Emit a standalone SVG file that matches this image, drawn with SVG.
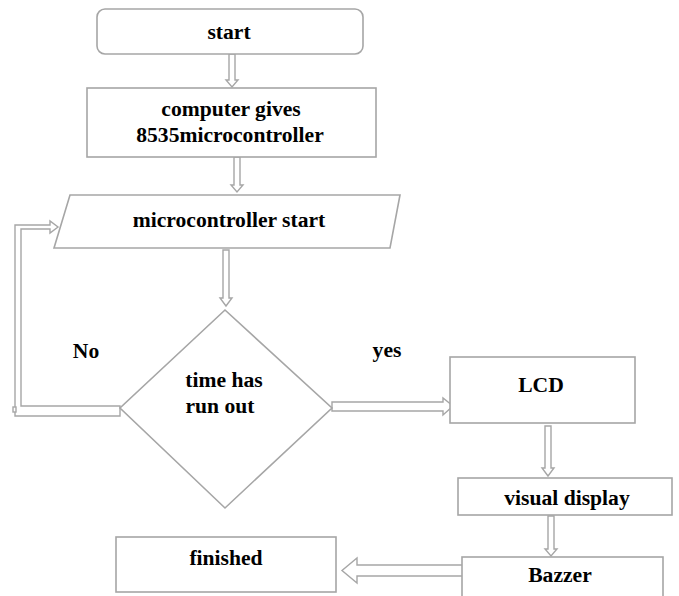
<svg xmlns="http://www.w3.org/2000/svg" width="679" height="596" viewBox="0 0 679 596">
<style>
.box{fill:#fff;stroke:#a6a6a6;stroke-width:1.6}
.arr{fill:#fff;stroke:#a6a6a6;stroke-width:1.4;stroke-linejoin:miter}
</style>
<rect width="679" height="596" fill="#fff"/>
<g id="connectors">
<polygon class="arr" points="229,54 235,54 235,80 238,80 232,87 226,80 229,80"/>
<polygon class="arr" points="234,157 240,157 240,185 243,185 237,192 231,185 234,185"/>
<polygon class="arr" points="223,250 229,250 229,298 232,298 226,306 220,298 223,298"/>
<polygon class="arr" points="332,402 443,402 443,398 453,406 443,415 443,411 332,411"/>
<polygon class="arr" points="545,426 551,426 551,468 554,468 548,476 542,468 545,468"/>
<polygon class="arr" points="548,516 554,516 554,549 557,549 551,556 545,549 548,549"/>
<polygon class="arr" points="467,565 357,565 357,558 342,570.5 357,583 357,576 467,576"/>
<polygon class="arr" points="120,406 21,406 21,229 50,229 50,233 58,227 50,221 50,225 15,225 15,416 120,416"/>
<rect class="arr" x="13" y="407" width="3" height="5"/>
</g>
<g font-family="'Liberation Serif', 'Times New Roman', serif" font-weight="bold" font-size="21.6" text-anchor="middle" fill="#000">
<g id="start">
<rect class="box" x="97" y="9" width="266" height="45" rx="8"/>
<text x="229" y="39">start</text>
</g>
<g id="computer">
<rect class="box" x="87" y="88" width="289" height="69"/>
<text x="231" y="116">computer gives</text>
<text x="230" y="142">8535microcontroller</text>
</g>
<g id="mcu-start">
<polygon class="box" points="70,195 400,195 390,248 54,248"/>
<text x="229" y="227">microcontroller start</text>
</g>
<g id="decision">
<polygon class="box" points="225,310 332,408 225,508 120,408"/>
<text x="224" y="387">time has</text>
<text x="220" y="413">run out</text>
</g>
<g id="labels">
<text x="86" y="358">No</text>
<text x="387" y="357">yes</text>
</g>
<g id="lcd">
<rect class="box" x="450" y="357" width="185" height="66"/>
<text x="541" y="392">LCD</text>
</g>
<g id="visual">
<rect class="box" x="458" y="478" width="214" height="37"/>
<text x="567" y="505">visual display</text>
</g>
<g id="bazzer">
<rect class="box" x="462" y="557" width="201" height="50"/>
<text x="560" y="582">Bazzer</text>
</g>
<g id="finished">
<rect class="box" x="116" y="537" width="220" height="55"/>
<text x="226" y="565">finished</text>
</g>
</g>
</svg>
